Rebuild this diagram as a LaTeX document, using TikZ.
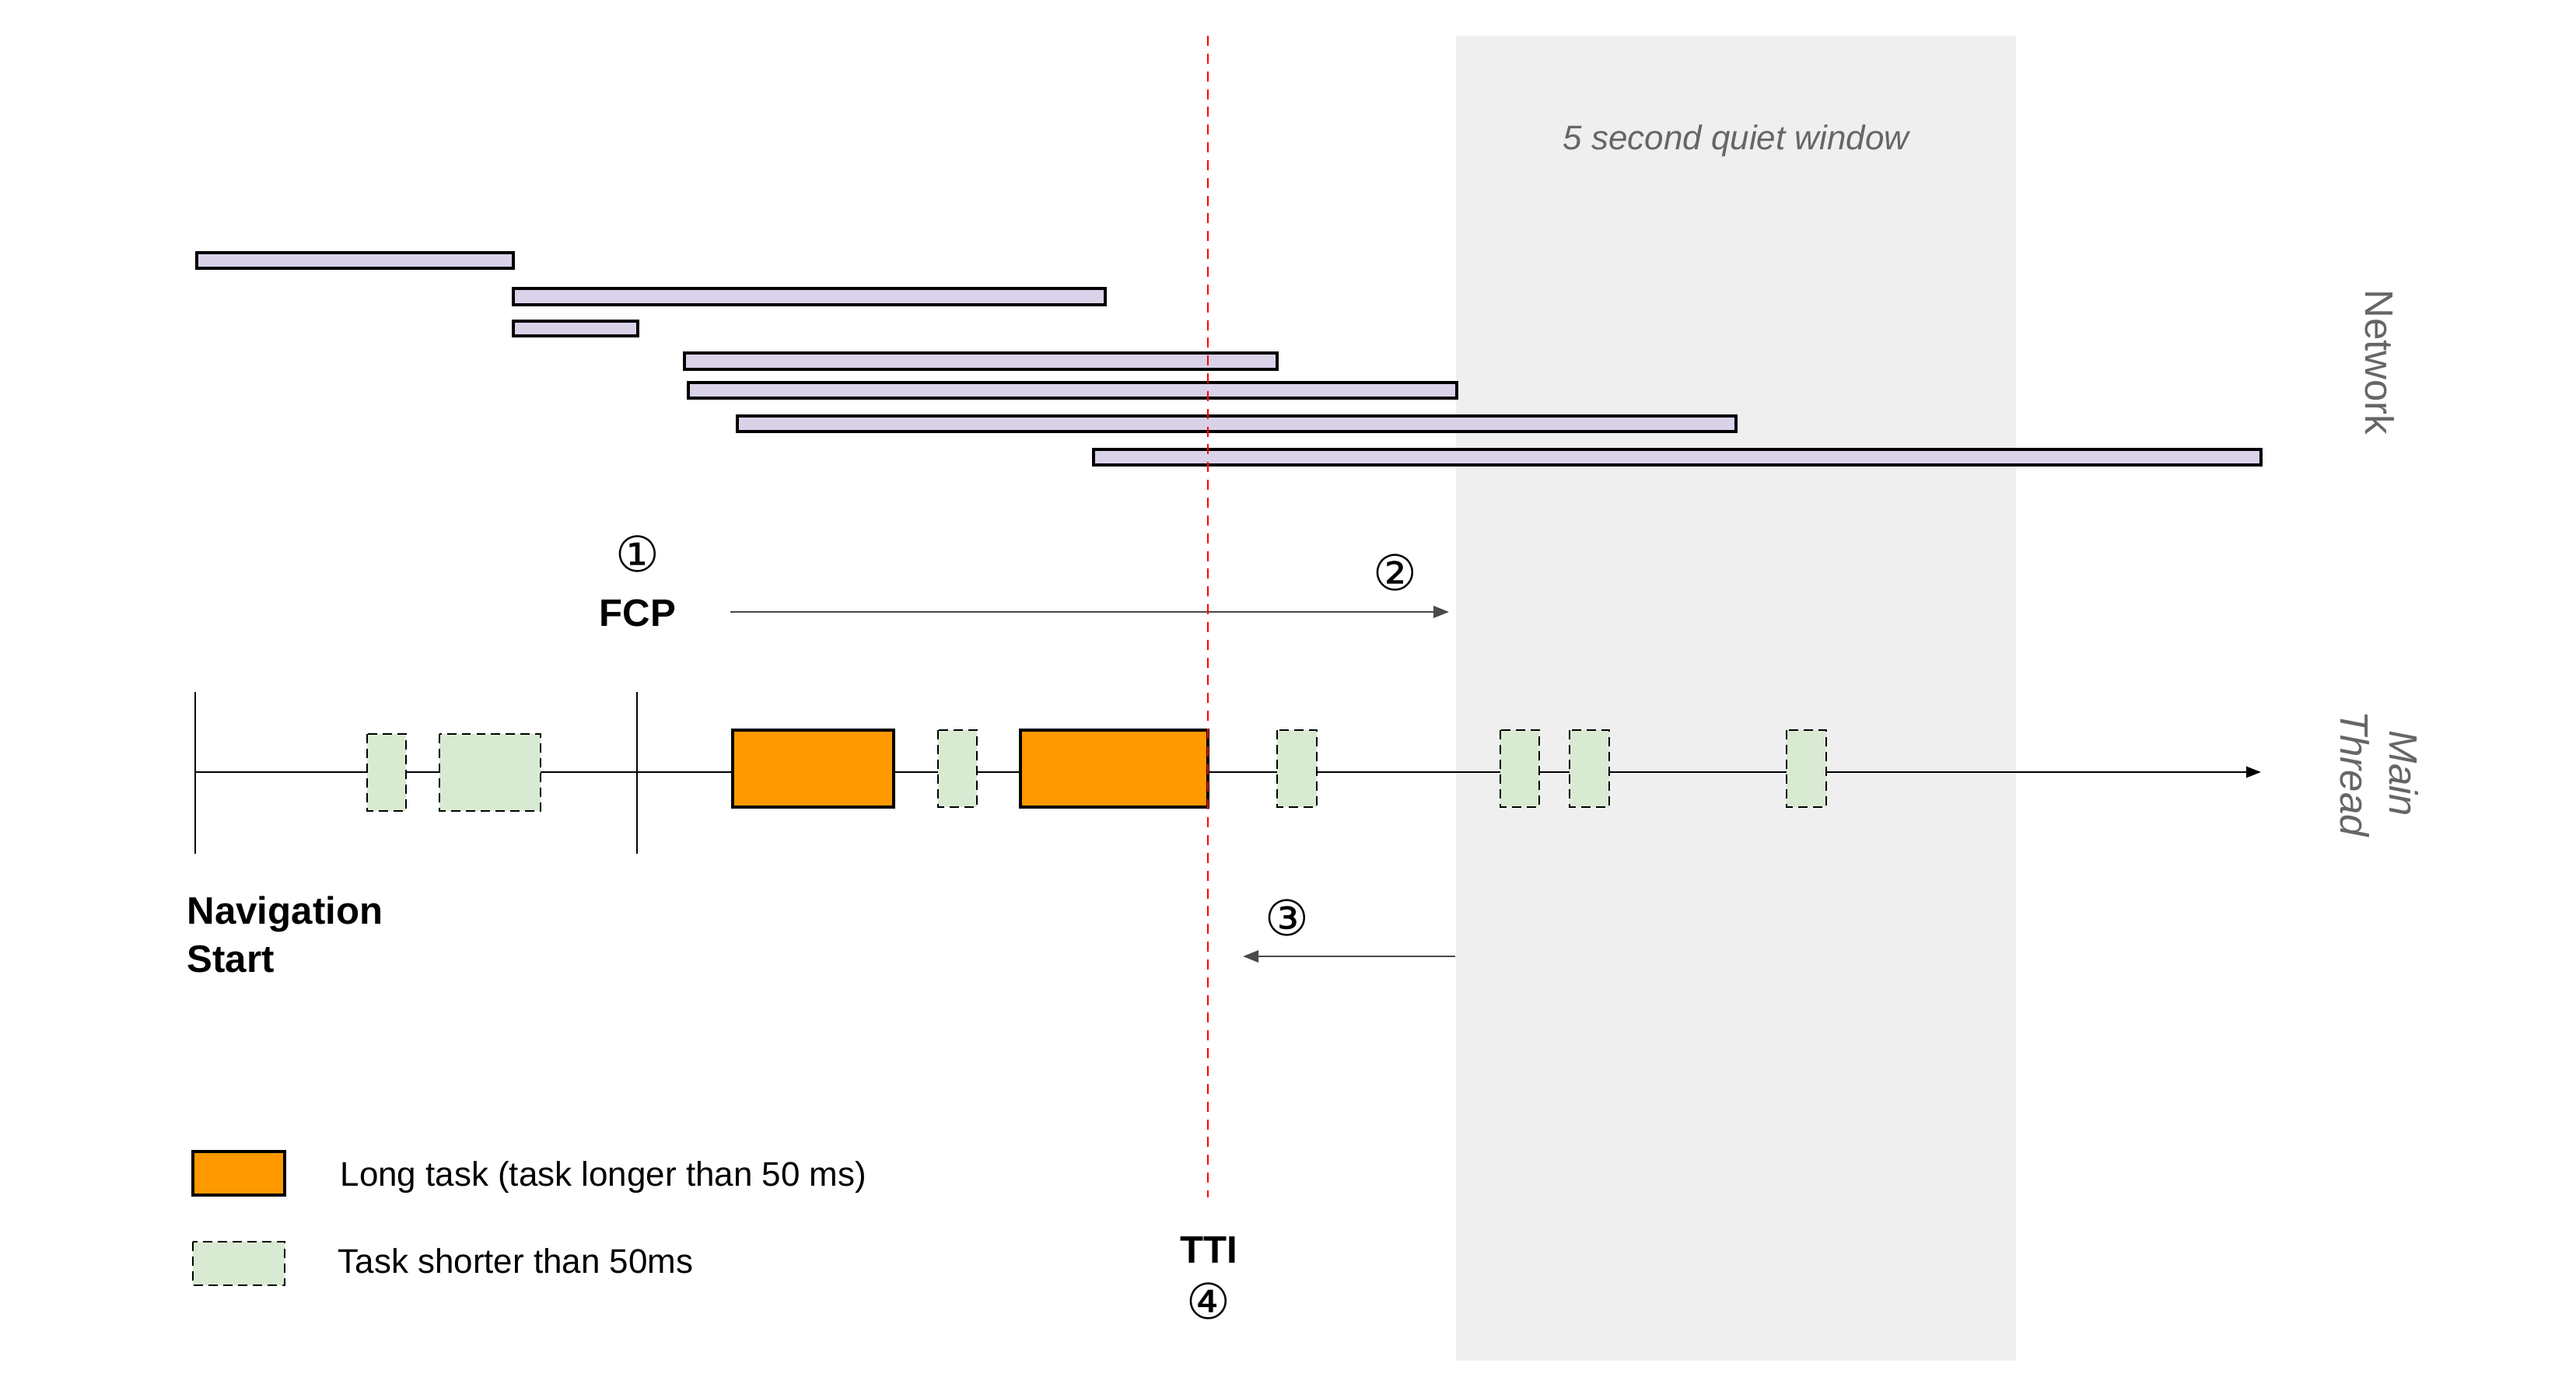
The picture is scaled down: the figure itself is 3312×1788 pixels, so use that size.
\documentclass[tikz,border=0pt]{standalone}
\usepackage{fontspec}
\setmainfont{Liberation Sans}
\newfontfamily\circfont{DejaVu Sans}
\usetikzlibrary{arrows.meta}
\definecolor{netfill}{HTML}{D9D2E9}
\definecolor{longfill}{HTML}{FF9900}
\definecolor{shortfill}{HTML}{D9EAD3}
\definecolor{quietgray}{HTML}{EFEFEF}
\definecolor{labelgray}{HTML}{666666}
\definecolor{arrowgray}{HTML}{4A4A4A}
\tikzset{
netbar/.style={draw=black, line width=0.9pt, fill=netfill},
longtask/.style={draw=black, line width=0.9pt, fill=longfill},
shorttask/.style={draw=black, line width=0.75pt, fill=shortfill, dash pattern=on 3.4pt off 2pt},
tick/.style={draw=black, line width=0.8pt},
flow/.style={draw=arrowgray, line width=0.8pt, -{Triangle[length=5.7pt,width=4.3pt]}},
ttiline/.style={draw=red, line width=0.75pt, dash pattern=on 3.7pt off 2.8pt},
biglabel/.style={font=\bfseries\fontsize{14}{17.6}\selectfont, inner sep=0pt},
circnum/.style={font=\circfont\fontsize{18}{18}\selectfont, inner sep=0pt},
legendtext/.style={font=\fontsize{12.5}{15}\selectfont, inner sep=0pt, anchor=base west},
sidelabel/.style={font=\fontsize{14.5}{18}\selectfont, text=labelgray, rotate=-90, inner sep=0pt, align=center}
}

\begin{document}
\begin{tikzpicture}[x=0.1mm, y=-0.1mm]
  \useasboundingbox (0,0) rectangle (3312,1788);
  % quiet window
  \fill[quietgray] (1872,46) rectangle (2592,1750);
  \node[font=\itshape\fontsize{12.5}{15}\selectfont, text=labelgray, inner sep=0pt, anchor=base] (quiet) at (2232,192) {5 second quiet window};

  % network requests
  \draw[netbar] (253,325) rectangle (660,345);
  \draw[netbar] (660,371) rectangle (1421,392);
  \draw[netbar] (660,413) rectangle (820,432);
  \draw[netbar] (880,454) rectangle (1642,475);
  \draw[netbar] (885,492) rectangle (1873,512);
  \draw[netbar] (948,535) rectangle (2232,555);
  \draw[netbar] (1406,578) rectangle (2907,598);
  \node[sidelabel] (network) at (3060,466) {Network};

  % main thread
  \coordinate (navstart) at (251,993);
  \coordinate (threadend) at (2907,993);
  \draw[tick, -{Triangle[length=5.4pt,width=4pt]}] (navstart) -- (threadend);
  \draw[tick] (251,890) -- (251,1098);
  \draw[tick] (819,890) -- (819,1098);
  \draw[shorttask] (472,944) rectangle (522,1043);
  \draw[shorttask] (565,944) rectangle (695,1043);
  \draw[longtask] (942,939) rectangle (1149,1038);
  \draw[shorttask] (1206,939) rectangle (1256,1038);
  \draw[longtask] (1312,939) rectangle (1553,1038);
  \draw[shorttask] (1642,939) rectangle (1693,1038);
  \draw[shorttask] (1929,939) rectangle (1979,1038);
  \draw[shorttask] (2018,939) rectangle (2069,1038);
  \draw[shorttask] (2297,939) rectangle (2348,1038);
  \node[sidelabel, font=\itshape\fontsize{14.5}{18}\selectfont] (mainthread) at (3059,995) {Main\\Thread};

  % labels and steps
  \node[biglabel, align=left, anchor=north west] (nav) at (240,1152) {Navigation\\Start};
  \node[biglabel, anchor=base] (fcp) at (820,805) {FCP};
  \node[circnum] (one) at (820,712) {①};
  \node[circnum] (two) at (1794,736) {②};
  \node[circnum] (three) at (1655,1180) {③};
  \node[biglabel, anchor=base] (tti) at (1554,1624) {TTI};
  \node[circnum] (four) at (1554,1673) {④};

  \coordinate (fcpfrom) at (939,787);
  \coordinate (quietin) at (1863,787);
  \draw[flow] (fcpfrom) -- (quietin);
  \coordinate (quietback) at (1871,1230);
  \coordinate (ttiat) at (1598,1230);
  \draw[flow] (quietback) -- (ttiat);

  % legend
  \draw[longtask] (248,1481) rectangle (366,1537);
  \node[legendtext] (longlabel) at (437,1525) {Long task (task longer than 50 ms)};
  \draw[shorttask] (248,1597) rectangle (366,1653);
  \node[legendtext] (shortlabel) at (434,1637) {Task shorter than 50ms};

  % tti line
  \draw[ttiline] (1553,46) -- (1553,1540);
\end{tikzpicture}
\end{document}
